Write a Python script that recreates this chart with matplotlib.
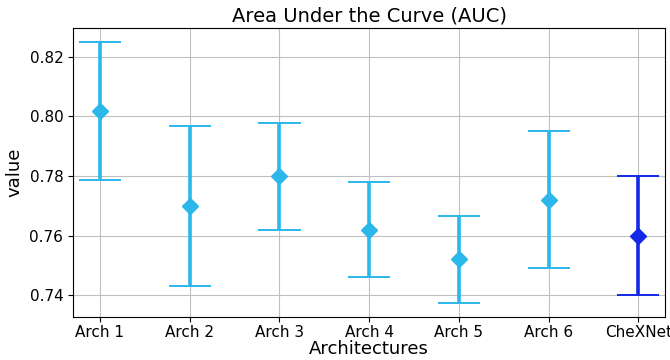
import matplotlib
matplotlib.use("Agg")
import matplotlib.pyplot as plt
import numpy as np

categories = ["Arch 1", "Arch 2", "Arch 3", "Arch 4", "Arch 5", "Arch 6", "CheXNet"]
means = [0.802, 0.770, 0.780, 0.762, 0.752, 0.772, 0.760]
lower = [0.7786, 0.7432, 0.7620, 0.7460, 0.7374, 0.7490, 0.740]
upper = [0.8251, 0.7967, 0.7978, 0.7779, 0.7664, 0.7950, 0.780]
colors = ["#2bb7ea"] * 6 + ["#1428e8"]

fig = plt.figure(figsize=(6.7, 3.6), dpi=100)
ax = fig.add_axes([0.109, 0.12, 0.884, 0.802])
x = np.arange(len(categories))
for xi, m, lo, hi, c in zip(x, means, lower, upper, colors):
    ax.vlines(xi, lo, hi, color=c, lw=2.6, zorder=3)
    ax.hlines([lo, hi], xi - 0.235, xi + 0.235, color=c, lw=1.4, zorder=3)
    ax.plot([xi], [m], marker="D", ms=8, color=c, zorder=4, linestyle="none")

ax.set_xticks(x)
ax.set_xticklabels(categories, fontsize=11)
ax.tick_params(axis="x", pad=2.5)
ax.set_xlim(-0.3, 6.3)
ax.set_ylim(0.7327, 0.8297)
ax.set_yticks([0.74, 0.76, 0.78, 0.80, 0.82])
ax.set_yticklabels(["0.74", "0.76", "0.78", "0.80", "0.82"], fontsize=11)
ax.grid(True, color="#c0c0c0", lw=0.8)
ax.set_axisbelow(True)
ax.set_xlabel("Architectures", fontsize=13, labelpad=0)
ax.set_ylabel("value", fontsize=13)
ax.set_title("Area Under the Curve (AUC)", fontsize=14, pad=5)
fig.savefig("out.png", dpi=100)
